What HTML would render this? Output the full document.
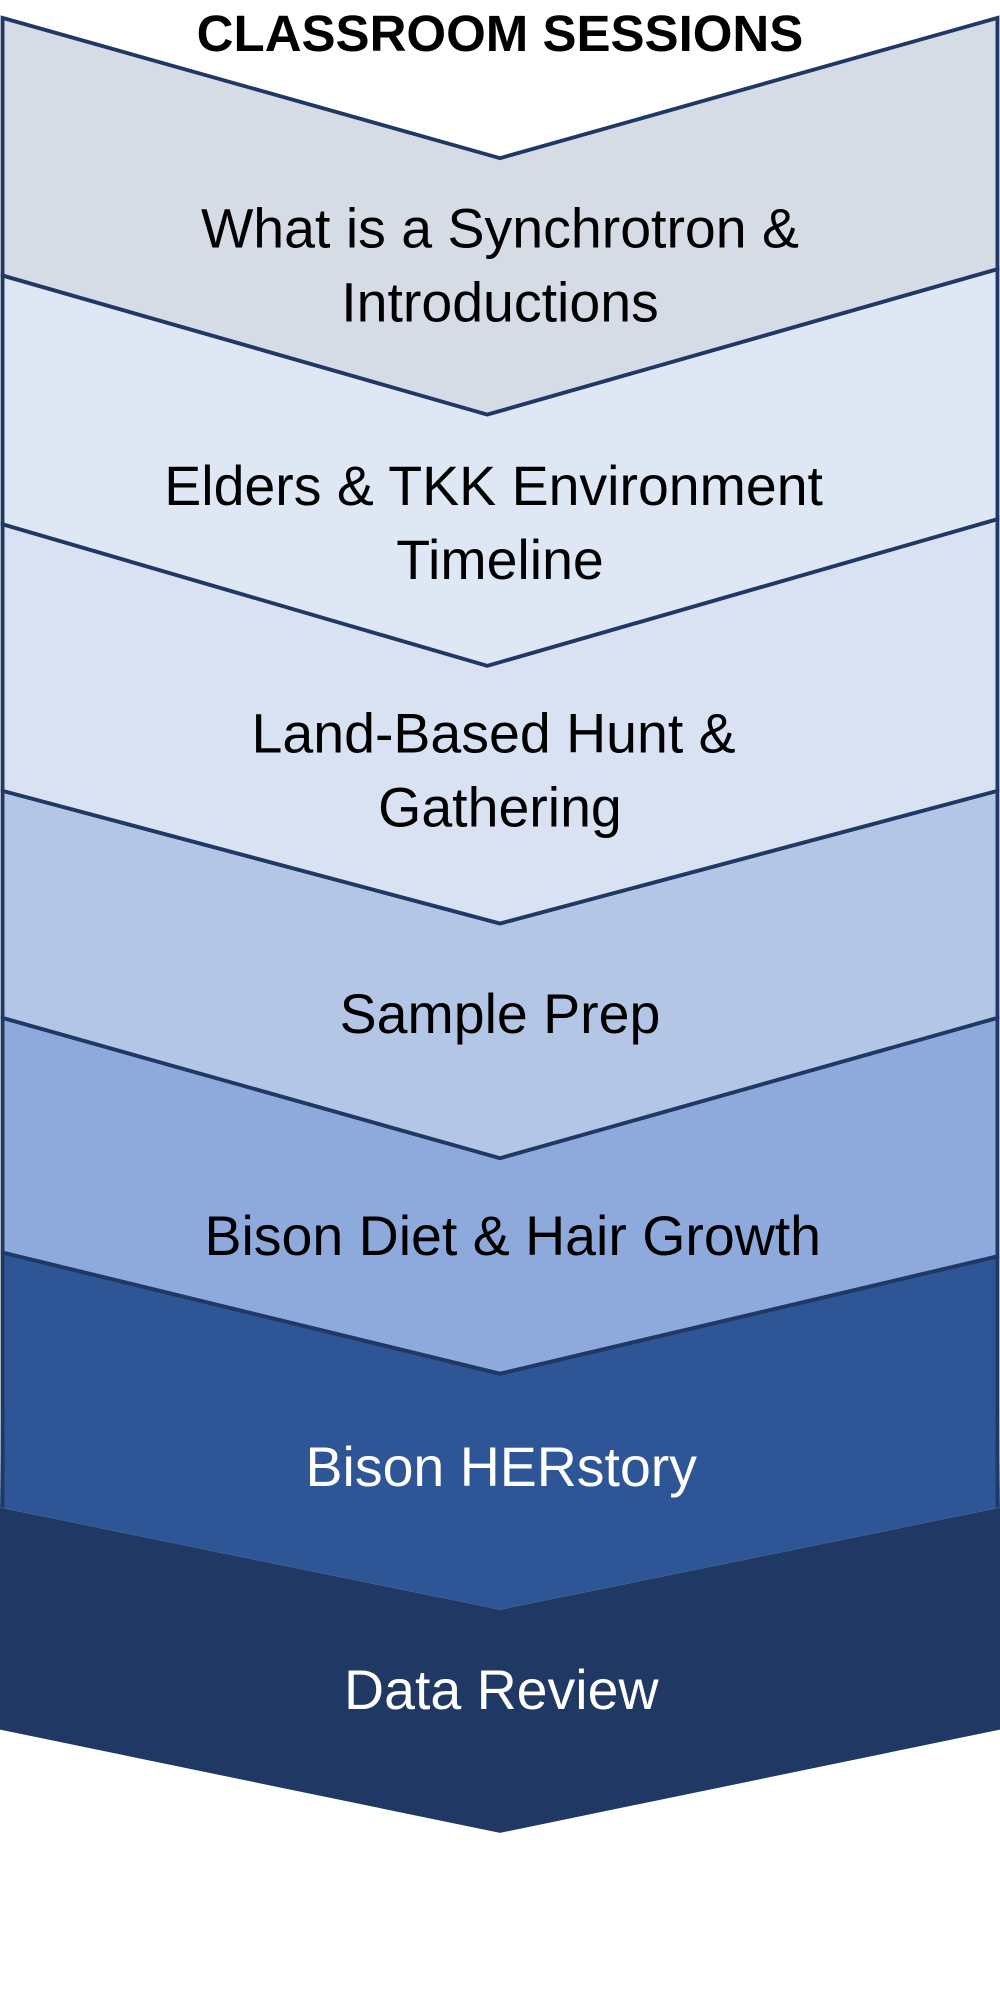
<!DOCTYPE html>
<html><head><meta charset="utf-8"><style>
html,body{margin:0;padding:0;background:#fff;width:1000px;height:2000px;overflow:hidden}
svg{display:block}
text{font-family:"Liberation Sans",sans-serif;font-size:43.5px;text-anchor:middle}
</style></head><body>
<svg width="1000" height="2000" viewBox="0 0 784 1568" preserveAspectRatio="none">
<g stroke="#1f3864" stroke-width="3" stroke-linejoin="miter">
<polygon fill="#1f3864" stroke="none" points="0,1182 392,1262 784,1182 784,1356 392,1437 0,1356"/>
<polygon fill="#2e5596" stroke="none" points="2,982 392,1077 782,985 784,1182 392,1262 0,1182"/>
<polygon fill="#8eaadc" points="2,798 392,908 782,798 782,985 392,1077 2,982"/>
<polygon fill="#b3c6e6" points="2,620 392,724 782,620 782,798 392,908 2,798"/>
<polygon fill="#d9e2f2" points="2,411 382,522 782,407 782,620 392,724 2,620"/>
<polygon fill="#dde8f4" points="2,216 382,325 782,211 782,407 382,522 2,411"/>
<polygon fill="#d5dce6" points="2,14 392,124 782,14 782,211 382,325 2,216"/>
<polyline fill="none" points="2,982 392,1077 782,985"/>
<line x1="2" y1="982" x2="2" y2="1182"/>
<line x1="782" y1="985" x2="782" y2="1182"/>
</g>
<text x="392" y="40" style="font-weight:bold;font-size:40px">CLASSROOM SESSIONS</text>
<text x="392" y="194">What is a Synchrotron &amp;</text>
<text x="392" y="252">Introductions</text>
<text x="387" y="396">Elders &amp; TKK Environment</text>
<text x="392" y="454">Timeline</text>
<text x="387" y="590">Land-Based Hunt &amp;</text>
<text x="392" y="648">Gathering</text>
<text x="392" y="810">Sample Prep</text>
<text x="402" y="984">Bison Diet &amp; Hair Growth</text>
<text x="393" y="1165" fill="#fff">Bison HERstory</text>
<text x="393" y="1340" fill="#fff">Data Review</text>
</svg>
</body></html>
